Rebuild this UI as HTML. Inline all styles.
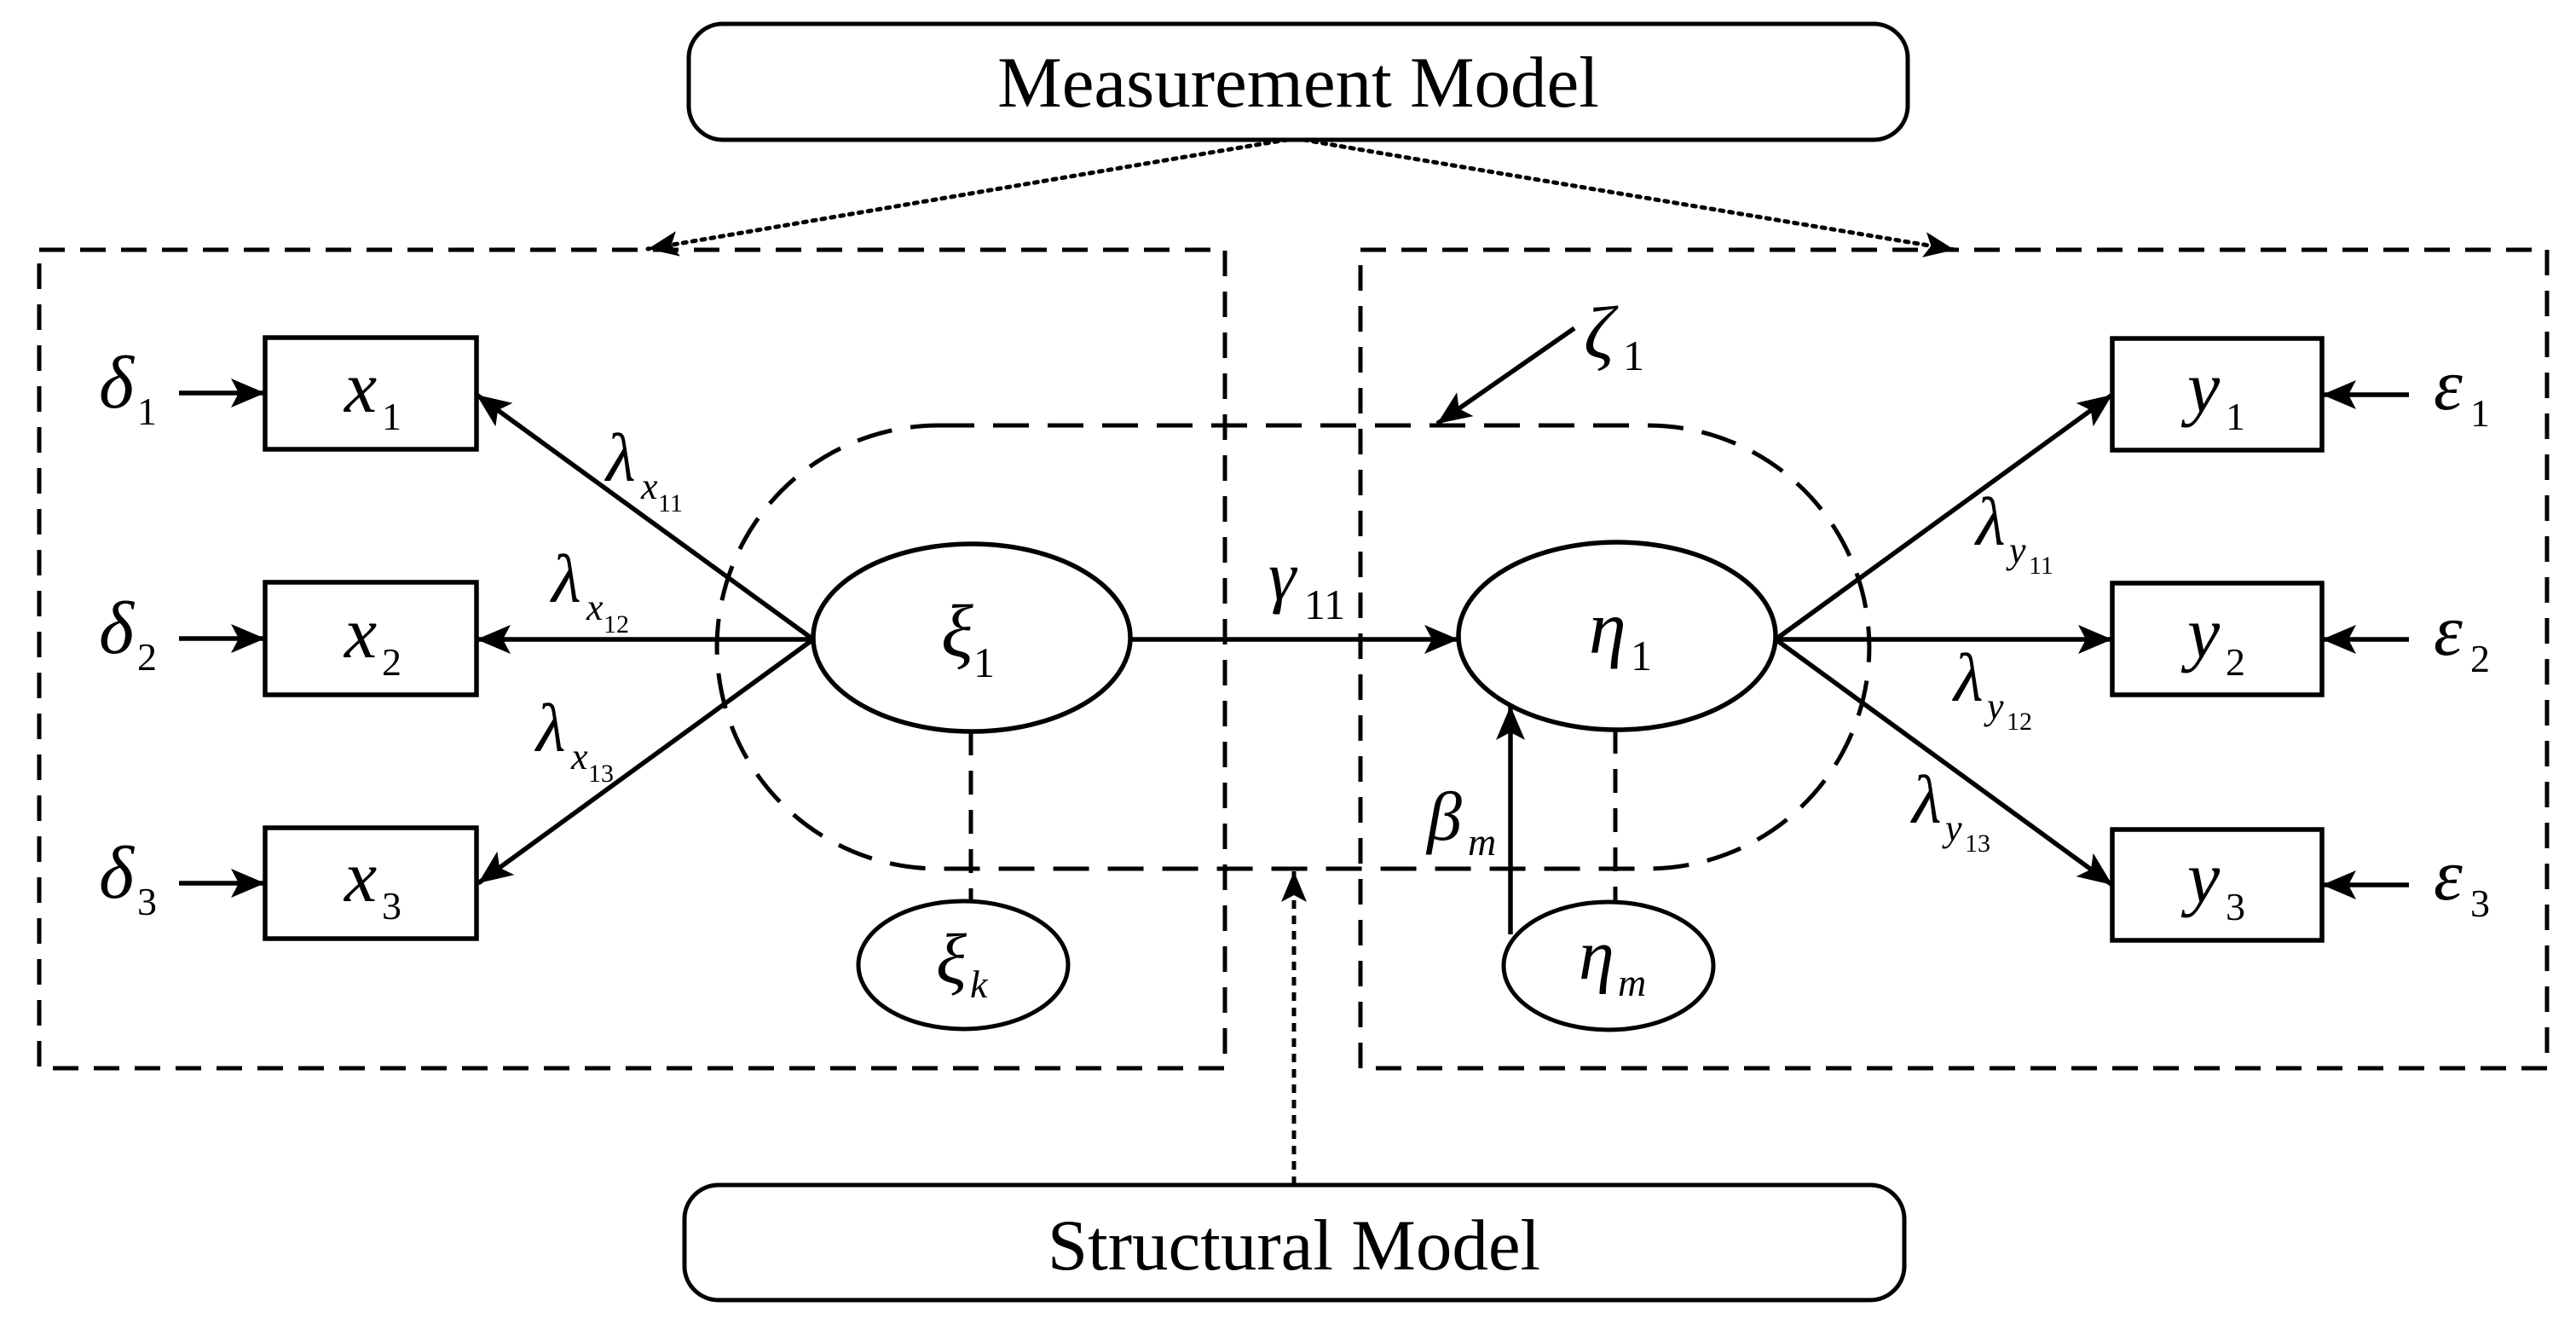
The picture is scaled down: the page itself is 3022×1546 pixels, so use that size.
<!DOCTYPE html>
<html><head><meta charset="utf-8"><style>
html,body{margin:0;padding:0;background:#fff;}
svg{display:block;}
text{font-family:"Liberation Serif",serif;fill:#000;}
.i{font-style:italic;}
</style></head><body>
<svg width="3022" height="1546" viewBox="0 0 3022 1546" xmlns="http://www.w3.org/2000/svg">
<defs>
<marker id="a" markerUnits="userSpaceOnUse" markerWidth="44" markerHeight="36" refX="40" refY="17" orient="auto">
<path d="M0,0 L40,17 L0,34 L9,17 Z" fill="#000"/>
</marker>
<marker id="b" markerUnits="userSpaceOnUse" markerWidth="40" markerHeight="32" refX="36" refY="15" orient="auto">
<path d="M0,0 L36,15 L0,30 L8,15 Z" fill="#000"/>
</marker>
</defs>
<g fill="none" stroke="#000">
<!-- title boxes -->
<rect x="808" y="28" width="1430" height="136" rx="40" stroke-width="5"/>
<rect x="803" y="1390" width="1431" height="135" rx="40" stroke-width="5"/>
<!-- measurement dashed rects -->
<rect x="46" y="293" width="1391" height="960" stroke-width="5" stroke-dasharray="30,18"/>
<rect x="1596" y="293" width="1392" height="960" stroke-width="5" stroke-dasharray="30,18"/>
<!-- structural stadium -->
<path d="M1101,499 L1933,499 A260,260 0 0 1 1933,1019 L1101,1019 A260,260 0 0 1 1101,499 Z" stroke-width="5" stroke-dasharray="42,22"/>
<!-- dotted connectors -->
<path d="M1510,164 Q1470,170 760,292" stroke-width="5" stroke-dasharray="4,7" stroke-linecap="round" marker-end="url(#b)"/>
<path d="M1530,164 Q1560,170 2293,293" stroke-width="5" stroke-dasharray="4,7" stroke-linecap="round" marker-end="url(#b)"/>
<path d="M1518,1390 L1518,1022" stroke-width="5" stroke-dasharray="10,8" marker-end="url(#b)"/>
<!-- x boxes -->
<rect x="311" y="396" width="248" height="131" stroke-width="5.5"/>
<rect x="311" y="683" width="248" height="132" stroke-width="5.5"/>
<rect x="311" y="971" width="248" height="130" stroke-width="5.5"/>
<!-- y boxes -->
<rect x="2478" y="397" width="246" height="131" stroke-width="5.5"/>
<rect x="2478" y="684" width="246" height="131" stroke-width="5.5"/>
<rect x="2478" y="973" width="246" height="130" stroke-width="5.5"/>
<!-- ellipses -->
<ellipse cx="1140" cy="748" rx="186" ry="110" stroke-width="5.5"/>
<ellipse cx="1897" cy="746" rx="186" ry="110" stroke-width="5.5"/>
<ellipse cx="1130" cy="1132" rx="123" ry="75" stroke-width="5"/>
<ellipse cx="1887" cy="1133" rx="123" ry="75" stroke-width="5"/>
<!-- dashed verticals -->
<line x1="1139" y1="858" x2="1139" y2="1057" stroke-width="5" stroke-dasharray="28,18"/>
<line x1="1895" y1="856" x2="1895" y2="1058" stroke-width="5" stroke-dasharray="28,18"/>
<!-- delta arrows -->
<g stroke-width="5.5">
<line x1="210" y1="461" x2="311" y2="461" marker-end="url(#a)"/>
<line x1="210" y1="749" x2="311" y2="749" marker-end="url(#a)"/>
<line x1="210" y1="1036" x2="311" y2="1036" marker-end="url(#a)"/>
<line x1="2826" y1="463" x2="2724" y2="463" marker-end="url(#a)"/>
<line x1="2826" y1="750" x2="2724" y2="750" marker-end="url(#a)"/>
<line x1="2826" y1="1038" x2="2724" y2="1038" marker-end="url(#a)"/>
<!-- loadings -->
<line x1="954" y1="750" x2="559" y2="463" marker-end="url(#a)"/>
<line x1="954" y1="750" x2="559" y2="750" marker-end="url(#a)"/>
<line x1="954" y1="750" x2="561" y2="1036" marker-end="url(#a)"/>
<line x1="2083" y1="750" x2="2478" y2="463" marker-end="url(#a)"/>
<line x1="2083" y1="750" x2="2478" y2="750" marker-end="url(#a)"/>
<line x1="2083" y1="750" x2="2478" y2="1038" marker-end="url(#a)"/>
<!-- gamma -->
<line x1="1326" y1="750" x2="1711" y2="750" marker-end="url(#a)"/>
<!-- beta -->
<line x1="1772" y1="1096" x2="1772" y2="828" marker-end="url(#a)"/>
<!-- zeta -->
<line x1="1847" y1="385" x2="1686" y2="497" marker-end="url(#a)"/>
</g>
</g>
<!-- titles -->
<text x="1523" y="125" font-size="85" text-anchor="middle">Measurement Model</text>
<text x="1518" y="1489" font-size="85" text-anchor="middle">Structural Model</text>
<!-- delta / x labels -->
<text x="116" y="478" font-size="88" class="i">δ</text><text x="161" y="498" font-size="46">1</text>
<text x="116" y="766" font-size="88" class="i">δ</text><text x="161" y="786" font-size="46">2</text>
<text x="116" y="1053" font-size="88" class="i">δ</text><text x="161" y="1073" font-size="46">3</text>
<text x="404" y="483" font-size="86" class="i">x</text><text x="448" y="504" font-size="46">1</text>
<text x="404" y="771" font-size="86" class="i">x</text><text x="448" y="792" font-size="46">2</text>
<text x="404" y="1057" font-size="86" class="i">x</text><text x="448" y="1078" font-size="46">3</text>
<!-- y / epsilon -->
<text x="2566" y="483" font-size="86" class="i">y</text><text x="2611" y="504" font-size="46">1</text>
<text x="2566" y="771" font-size="86" class="i">y</text><text x="2611" y="792" font-size="46">2</text>
<text x="2566" y="1058" font-size="86" class="i">y</text><text x="2611" y="1079" font-size="46">3</text>
<text x="2855" y="480" font-size="86" class="i">ε</text><text x="2898" y="500" font-size="46">1</text>
<text x="2855" y="768" font-size="86" class="i">ε</text><text x="2898" y="788" font-size="46">2</text>
<text x="2855" y="1055" font-size="86" class="i">ε</text><text x="2898" y="1075" font-size="46">3</text>
<!-- latent labels -->
<text x="1104" y="770" font-size="88" class="i">ξ</text><text x="1142" y="794" font-size="50">1</text>
<text x="1098" y="1153" font-size="84" class="i">ξ</text><text x="1138" y="1170" font-size="46" class="i">k</text>
<text x="1864" y="766" font-size="88" class="i">η</text><text x="1913" y="786" font-size="50">1</text>
<text x="1852" y="1148" font-size="84" class="i">η</text><text x="1898" y="1168" font-size="46" class="i">m</text>
<text x="1858" y="420" font-size="88" class="i">ζ</text><text x="1904" y="434" font-size="50">1</text>
<text x="1488" y="703" font-size="82" class="i">γ</text><text x="1530" y="726" font-size="50">11</text>
<text x="1674" y="985" font-size="82" class="i">β</text><text x="1722" y="1003" font-size="46" class="i">m</text>
<!-- lambdas x -->
<text x="711" y="564" font-size="80" class="i">λ</text><text x="752" y="585" font-size="44" class="i">x</text><text x="772" y="600" font-size="30">11</text>
<text x="647" y="706" font-size="80" class="i">λ</text><text x="688" y="727" font-size="44" class="i">x</text><text x="708" y="742" font-size="30">12</text>
<text x="629" y="881" font-size="80" class="i">λ</text><text x="670" y="902" font-size="44" class="i">x</text><text x="690" y="917" font-size="30">13</text>
<!-- lambdas y -->
<text x="2318" y="639" font-size="80" class="i">λ</text><text x="2357" y="660" font-size="44" class="i">y</text><text x="2380" y="673" font-size="30">11</text>
<text x="2292" y="822" font-size="80" class="i">λ</text><text x="2331" y="843" font-size="44" class="i">y</text><text x="2354" y="856" font-size="30">12</text>
<text x="2243" y="965" font-size="80" class="i">λ</text><text x="2282" y="986" font-size="44" class="i">y</text><text x="2305" y="999" font-size="30">13</text>
</svg>
</body></html>
